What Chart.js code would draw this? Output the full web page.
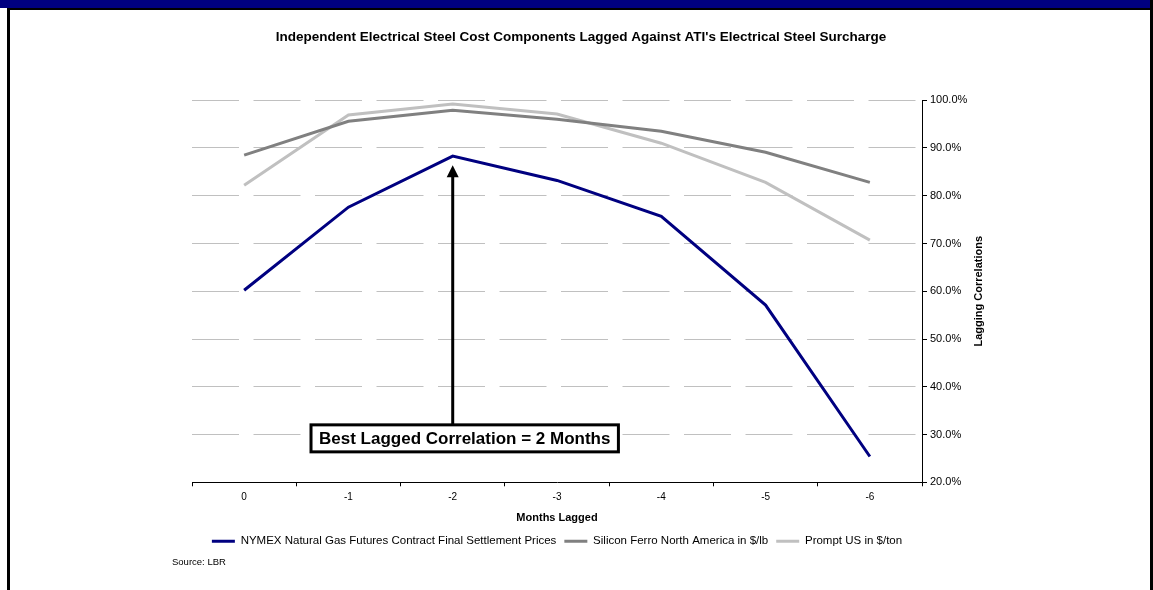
<!DOCTYPE html>
<html>
<head>
<meta charset="utf-8">
<title>Lagging Correlations</title>
<script src="https://cdn.jsdelivr.net/npm/chart.js"></script>
<style>
    html, body { margin: 0; padding: 0; background: #fff; }
    #frame { position: relative; width: 1153px; height: 590px; overflow: hidden; background: #fff; }
    /* navy band and black frame round the page */
    #topBand { position: absolute; left: 0; top: 0; width: 1150px; height: 8px; background: #000080; }
    #topLine { position: absolute; left: 7px; top: 8px; width: 1143px; height: 2px; background: #000; }
    #leftLine { position: absolute; left: 7px; top: 8px; width: 3px; height: 582px; background: #000; }
    #rightLine { position: absolute; left: 1150px; top: 0; width: 3px; height: 590px; background: #000; }
    #lagChart { position: absolute; left: 0; top: 0; }
    #source { position: absolute; left: 172px; top: 556px; font: 9.5px "Liberation Sans", Arial, sans-serif; color: #000; }
</style>
</head>
<body>
<div id="frame">
    <div id="topBand"></div>
    <div id="topLine"></div>
    <div id="leftLine"></div>
    <div id="rightLine"></div>
    <canvas id="lagChart" width="1153" height="590"></canvas>
    <div id="source">Source: LBR</div>
</div>
<script>
// Months lagged (x categories)
const monthsLagged = ['0', '-1', '-2', '-3', '-4', '-5', '-6'];

// Lagging correlations in percent
const nymexGas = [60.2, 77.6, 88.3, 83.2, 75.7, 57.1, 25.4];
const siliconFerro = [88.5, 95.6, 97.9, 96.0, 93.5, 89.1, 82.8];
const promptUS = [82.2, 96.9, 99.2, 97.1, 91.0, 82.8, 70.7];

// Y axis tick values (percent)
const percentTicks = [20, 30, 40, 50, 60, 70, 80, 90, 100];

// Call-out box and arrow pointing at the best lag
const bestLag = '-2';
const arrowTipValue = 86.4;
const noteValue = 29.2;
const noteText = 'Best Lagged Correlation = 2 Months';

const fontFamily = '"Liberation Sans", Arial, sans-serif';
Chart.defaults.font.family = fontFamily;
Chart.defaults.color = '#000';

// Draws the arrow and the boxed note
const bestLagNote = {
    id: 'bestLagNote',
    afterDatasetsDraw(chart) {
        const { ctx, scales: { x, y } } = chart;
        const ax = x.getPixelForValue(monthsLagged.indexOf(bestLag));
        const tipY = y.getPixelForValue(arrowTipValue);
        const midY = y.getPixelForValue(noteValue);
        ctx.save();
        ctx.font = 'bold 17px ' + fontFamily;
        const bw = ctx.measureText(noteText).width + 16;
        const bh = 27;
        const bx = ax + 12 - bw / 2;
        const by = midY - bh / 2;

        // arrow shaft and head
        ctx.strokeStyle = '#000';
        ctx.lineWidth = 3;
        ctx.beginPath();
        ctx.moveTo(ax, by);
        ctx.lineTo(ax, tipY + 10);
        ctx.stroke();
        ctx.fillStyle = '#000';
        ctx.beginPath();
        ctx.moveTo(ax, tipY);
        ctx.lineTo(ax - 6, tipY + 12);
        ctx.lineTo(ax + 6, tipY + 12);
        ctx.closePath();
        ctx.fill();

        // box
        ctx.fillStyle = '#fff';
        ctx.fillRect(bx, by, bw, bh);
        ctx.strokeRect(bx, by, bw, bh);
        ctx.fillStyle = '#000';
        ctx.textAlign = 'center';
        ctx.textBaseline = 'middle';
        ctx.fillText(noteText, bx + bw / 2, by + bh / 2 + 1);
        ctx.restore();
    }
};

// Y axis title reads bottom-to-top, which the right axis can't do by itself
const yAxisTitle = {
    id: 'yAxisTitle',
    afterDraw(chart) {
        const { ctx, chartArea, scales: { y } } = chart;
        ctx.save();
        ctx.translate(y.right + 9, (chartArea.top + chartArea.bottom) / 2);
        ctx.rotate(-Math.PI / 2);
        ctx.font = 'bold 11px ' + fontFamily;
        ctx.fillStyle = '#000';
        ctx.textAlign = 'center';
        ctx.textBaseline = 'middle';
        ctx.fillText('Lagging Correlations', 0, 0);
        ctx.restore();
    }
};

const ctx = document.getElementById('lagChart').getContext('2d');

new Chart(ctx, {
    type: 'line',
    data: {
        labels: monthsLagged,
        datasets: [
            {
                label: 'NYMEX Natural Gas Futures Contract Final Settlement Prices',
                data: nymexGas,
                borderColor: '#000080',
                backgroundColor: '#000080'
            },
            {
                label: 'Silicon Ferro North America in $/lb',
                data: siliconFerro,
                borderColor: '#808080',
                backgroundColor: '#808080'
            },
            {
                label: 'Prompt US in $/ton',
                data: promptUS,
                borderColor: '#c0c0c0',
                backgroundColor: '#c0c0c0'
            }
        ]
    },
    options: {
        responsive: false,
        animation: false,
        layout: { padding: { left: 192, right: 183, top: 0, bottom: 33 } },
        elements: {
            line: { borderWidth: 3, tension: 0, fill: false },
            point: { radius: 0, hoverRadius: 0 }
        },
        plugins: {
            title: {
                display: true,
                text: "Independent Electrical Steel Cost Components Lagged Against ATI's Electrical Steel Surcharge",
                font: { size: 13.5, weight: 'bold' },
                color: '#000',
                padding: { top: 29, bottom: 55 }
            },
            legend: {
                position: 'bottom',
                fullSize: false,
                labels: {
                    font: { size: 11.5 },
                    color: '#000',
                    boxWidth: 23,
                    boxHeight: 3,
                    padding: 8,
                    generateLabels(chart) {
                        return Chart.defaults.plugins.legend.labels.generateLabels(chart)
                            .map(item => Object.assign(item, { lineWidth: 0 }));
                    }
                }
            },
            tooltip: { enabled: false }
        },
        scales: {
            x: {
                offset: true,
                grid: {
                    offset: true,
                    drawOnChartArea: false,
                    drawTicks: true,
                    tickLength: 4,
                    tickColor: '#000',
                    color: '#000'
                },
                border: { color: '#000', width: 1 },
                ticks: { font: { size: 10 }, color: '#000', padding: 5 },
                title: {
                    display: true,
                    text: 'Months Lagged',
                    font: { size: 11, weight: 'bold' },
                    color: '#000',
                    padding: { top: 3, bottom: 3 }
                }
            },
            y: {
                position: 'right',
                min: 20,
                max: 100,
                afterBuildTicks: axis => { axis.ticks = percentTicks.map(v => ({ value: v })); },
                afterFit: axis => { axis.width = 48; },
                grid: {
                    color: c => (c.tick && c.tick.value === 20) ? 'rgba(0,0,0,0)' : '#c0c0c0',
                    tickColor: '#000',
                    tickLength: 5,
                    tickBorderDash: []
                },
                border: { color: '#000', width: 1, dash: [47, 14.5] },
                ticks: {
                    font: { size: 11 },
                    color: '#000',
                    padding: 3,
                    callback: v => v.toFixed(1) + '%'
                }
            }
        }
    },
    plugins: [bestLagNote, yAxisTitle]
});
</script>
</body>
</html>
